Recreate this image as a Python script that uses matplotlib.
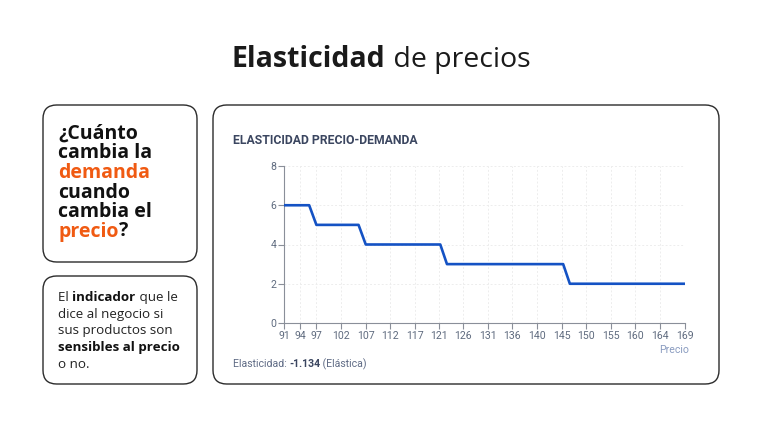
import matplotlib.pyplot as plt
from matplotlib.patches import FancyBboxPatch

# demand steps
precio = [91, 95.9, 97.3, 105.5, 106.9, 121.4, 122.7, 145.3, 146.6, 169]
demanda = [6, 6, 5, 5, 4, 4, 3, 3, 2, 2]
# tick positions (price values) and their rounded labels
x_tick_pos = [91, 94.1, 97.3, 102.0, 107.0, 111.7, 116.4, 121.2, 125.9, 130.6,
              135.4, 140.2, 145.1, 149.8, 154.6, 159.3, 164.2, 169]
x_tick_labels = ['91', '94', '97', '102', '107', '112', '117', '121', '126', '131',
                 '136', '140', '145', '150', '155', '160', '164', '169']
y_ticks = [0, 2, 4, 6, 8]
elasticidad = -1.134

W, H = 762, 428
ORANGE = '#f05a12'
FONT = 'Open Sans'
UI = ['Roboto', 'DejaVu Sans']

fig = plt.figure(figsize=(W / 100, H / 100), dpi=100)
plt.rcParams['font.family'] = [FONT, 'DejaVu Sans']
renderer = fig.canvas.get_renderer()


def px(x, y):
    return x / W, 1 - y / H


def text_width(txt, **kw):
    # measure with bars around so spaces count correctly
    a = fig.text(0, 0, '|' + txt + '|', **kw)
    b = fig.text(0, 0, '||', **kw)
    w = a.get_window_extent(renderer=renderer).width - b.get_window_extent(renderer=renderer).width
    a.remove()
    b.remove()
    return w


def rich_line(x, y, parts, size, family=None):
    cx = x
    for txt, weight, color in parts:
        kw = dict(fontsize=size, fontweight=weight)
        if family:
            kw['family'] = family
        fig.text(*px(cx, y), txt, color=color, va='baseline', ha='left', **kw)
        cx += text_width(txt, **kw)
    return cx


def box(x0, y0, x1, y1):
    p = FancyBboxPatch(px(x0, y1), (x1 - x0) / W, (y1 - y0) / H,
                       boxstyle='round,pad=0,rounding_size=0.018',
                       transform=fig.transFigure, facecolor='white',
                       edgecolor='#2b2b2b', linewidth=1.0,
                       mutation_aspect=W / H, zorder=0)
    fig.patches.append(p)


# title
tw1 = text_width('Elasticidad', fontsize=20.5, fontweight='bold')
tw2 = text_width(' de precios', fontsize=20.5)
rich_line(W / 2 - (tw1 + tw2) / 2, 67,
          [('Elasticidad', 'bold', '#1a1a1a'), (' de precios', 'normal', '#1a1a1a')], 20.5)

# boxes
box(43, 105, 197, 262)
box(43, 276, 197, 384)
box(213, 105, 719, 384)

# question box
lines = [
    [('¿Cuánto', 'bold', '#111111')],
    [('cambia la', 'bold', '#111111')],
    [('demanda', 'bold', ORANGE)],
    [('cuando', 'bold', '#111111')],
    [('cambia el', 'bold', '#111111')],
    [('precio', 'bold', ORANGE), ('?', 'bold', '#111111')],
]
for i, parts in enumerate(lines):
    rich_line(58, 139 + i * 19.5, parts, 14)

# indicator box
lines2 = [
    [('El ', 'normal', '#222222'), ('indicador', 'bold', '#111111'), (' que le', 'normal', '#222222')],
    [('dice al negocio si', 'normal', '#222222')],
    [('sus productos son', 'normal', '#222222')],
    [('sensibles al precio', 'bold', '#111111')],
    [('o no.', 'normal', '#222222')],
]
for i, parts in enumerate(lines2):
    rich_line(58, 301 + i * 16.7, parts, 9.6)

# chart card
fig.text(*px(233, 144), 'ELASTICIDAD PRECIO-DEMANDA', fontsize=8.8,
         fontweight='bold', color='#3b4660', family=UI)

l, b = px(284, 323)
r, t = px(685, 166)
ax = fig.add_axes([l, b, r - l, t - b])
ax.set_zorder(2)
ax.plot(precio, demanda, color='#1452c4', linewidth=1.9, solid_capstyle='round',
        solid_joinstyle='round', zorder=3)
ax.set_xlim(91, 169)
ax.set_ylim(0, 8)
ax.set_xticks(x_tick_pos, x_tick_labels)
ax.set_yticks(y_ticks)
ax.tick_params(axis='both', labelsize=7.6, colors='#8a8f99', labelcolor='#5f6b7f',
               length=4, width=0.8, pad=1.5)
for lab in ax.get_xticklabels() + ax.get_yticklabels():
    lab.set_family(UI)
ax.grid(True, color='#ededed', linestyle=(0, (2, 2)), linewidth=0.7)
for s in ('top', 'right'):
    ax.spines[s].set_visible(False)
for s in ('left', 'bottom'):
    ax.spines[s].set_color('#8a8f99')
    ax.spines[s].set_linewidth(0.8)
ax.set_facecolor('none')

fig.text(*px(689, 353), 'Precio', fontsize=7.6, color='#8a9cc0', ha='right', family=UI)

rich_line(233, 367, [('Elasticidad: ', 'normal', '#5f6b85'),
                     (f'{elasticidad:.3f}', 'bold', '#3b4660'),
                     (' (Elástica)', 'normal', '#5f6b85')], 7.6, family=UI)

fig.savefig('out.png', dpi=100, facecolor='white')
